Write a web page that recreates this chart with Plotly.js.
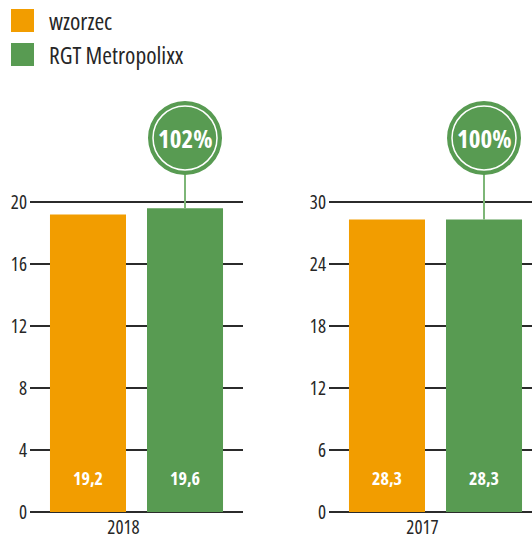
<!DOCTYPE html>
<html><head><meta charset="utf-8">
<script src="https://cdn.plot.ly/plotly-3.0.1.min.js"></script>
<style>html,body{margin:0;padding:0;background:#fff}#chart{width:532px;height:540px}
text, tspan{font-stretch:condensed !important}</style>
</head><body><div id="chart"></div>
<script>
const seriesNames = ['wzorzec', 'RGT Metropolixx'];
const years = ['2018', '2017'];
const wzorzecValues = [19.2, 28.3];
const rgtValues = [19.6, 28.3];
const percentLabels = ['102%', '100%'];
const yTickVals = [[0, 4, 8, 12, 16, 20], [0, 6, 12, 18, 24, 30]];
const colors = ['#F29D00', '#589B52'];

const FONT = "'Open Sans', sans-serif";
const TXT = '#262626';
const W = 532, H = 540, MB = 28;
const plotH = H - MB;           // plot area height in px
const axisPx = 310;             // px from 0 to top tick
const bargap = 0.089, bargroupgap = 0.2165;
const half = (1 - bargap) / 4;  // centre offset of each bar in a group
const circleOffsetPx = 64;

const traces = [];
const shapes = [];
const annotations = [];
const series = [wzorzecValues, rgtValues];

years.forEach((yr, i) => {
  const xa = i === 0 ? 'x' : 'x2';
  const ya = i === 0 ? 'y' : 'y2';
  series.forEach((vals, s) => {
    traces.push({
      type: 'bar', x: [yr], y: [vals[i]], name: seriesNames[s],
      xaxis: xa, yaxis: ya, marker: {color: colors[s], line: {width: 0}},
      showlegend: false, hoverinfo: 'skip'
    });
    annotations.push({
      xref: xa, yref: ya, x: (s === 0 ? -half : half), y: 0, yshift: 34,
      yanchor: 'middle', showarrow: false,
      text: '<b>' + vals[i].toFixed(1).replace('.', ',') + '</b>',
      font: {family: FONT, size: 18, color: '#ffffff'}
    });
  });
  const top = yTickVals[i][yTickVals[i].length - 1];
  const pxPerUnit = axisPx / top;
  const cy = top + circleOffsetPx / pxPerUnit;
  shapes.push({
    type: 'line', xref: xa, yref: ya, x0: half, x1: half, y0: rgtValues[i], y1: cy,
    line: {color: '#7DB677', width: 2}
  });
  shapes.push({
    type: 'circle', xref: xa, yref: ya, xsizemode: 'pixel', ysizemode: 'pixel',
    xanchor: half, yanchor: cy, x0: -37, x1: 37, y0: -37, y1: 37,
    fillcolor: colors[1], line: {width: 0}
  });
  shapes.push({
    type: 'circle', xref: xa, yref: ya, xsizemode: 'pixel', ysizemode: 'pixel',
    xanchor: half, yanchor: cy, x0: -32, x1: 32, y0: -32, y1: 32,
    fillcolor: 'rgba(0,0,0,0)', line: {color: '#ffffff', width: 1.5}
  });
  annotations.push({
    xref: xa, yref: ya, x: half, y: cy, showarrow: false, yanchor: 'middle',
    text: '<b>' + percentLabels[i] + '</b>',
    font: {family: FONT, size: 25, color: '#ffffff'}
  });
});

// legend
seriesNames.forEach((n, s) => {
  const top = 9 + s * 34;
  shapes.push({
    type: 'rect', xref: 'paper', yref: 'paper',
    x0: 11 / W, x1: 34 / W, y0: 1 - (top + 23) / plotH, y1: 1 - top / plotH,
    fillcolor: colors[s], line: {width: 0}
  });
  annotations.push({
    xref: 'paper', yref: 'paper', x: 47 / W, y: 1 - (top + 11.5) / plotH,
    xanchor: 'left', yanchor: 'middle', showarrow: false, text: n,
    font: {family: FONT, size: 23.5, color: TXT}
  });
});

function yAxis(i, xa) {
  const top = yTickVals[i][yTickVals[i].length - 1];
  return {
    anchor: xa, domain: [0, 1], range: [0, plotH * top / axisPx],
    tickvals: yTickVals[i], ticktext: yTickVals[i].map(String),
    showgrid: true, gridcolor: '#2b2b2b', gridwidth: 1.3,
    zeroline: true, zerolinecolor: '#2b2b2b', zerolinewidth: 1.3,
    showline: false, ticks: '', ticklabelstandoff: 2,
    tickfont: {family: FONT, size: 19, color: TXT}, fixedrange: true
  };
}
function xAxis(i, ya, dom, rng) {
  return {
    anchor: ya, domain: dom, type: 'category', range: rng,
    showgrid: false, zeroline: false, showline: false, ticks: '',
    ticklabelshift: -13, ticklabelstandoff: 2,
    tickfont: {family: FONT, size: 19, color: TXT}, fixedrange: true
  };
}

const layout = {
  width: W, height: H, margin: {l: 0, r: 0, t: 0, b: MB},
  paper_bgcolor: '#ffffff', plot_bgcolor: 'rgba(0,0,0,0)',
  barmode: 'group', bargap: bargap, bargroupgap: bargroupgap,
  showlegend: false,
  xaxis: xAxis(0, 'y', [30 / W, 243 / W], [-0.5, 0.5]),
  yaxis: yAxis(0, 'x'),
  xaxis2: xAxis(1, 'y2', [329 / W, 1], [-0.5, -0.5 + 203 / 213]),
  yaxis2: yAxis(1, 'x2'),
  shapes: shapes, annotations: annotations
};

Plotly.newPlot('chart', traces, layout, {staticPlot: true, displayModeBar: false});
</script></body></html>
